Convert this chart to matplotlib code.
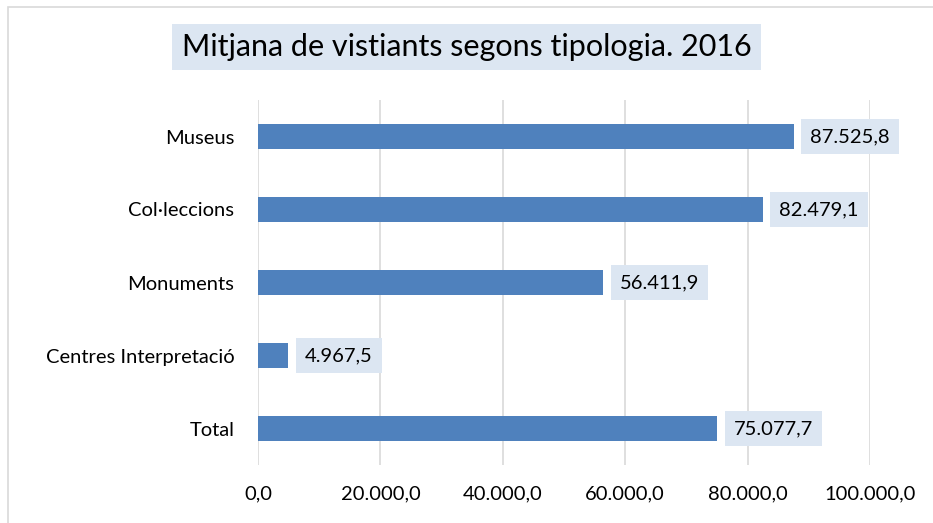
import numpy as np
import matplotlib.pyplot as plt
from matplotlib.patches import Rectangle

# data
categories = ["Museus", "Col·leccions", "Monuments", "Centres Interpretació", "Total"]
values = [87525.8, 82479.1, 56411.9, 4967.5, 75077.7]
xticks = [0, 20000, 40000, 60000, 80000, 100000]


def fmt(v):
    # catalan style: 87.525,8
    s = f"{v:,.1f}"
    return s.replace(",", "X").replace(".", ",").replace("X", ".")


plt.rcParams['font.family'] = ['Lato', 'DejaVu Sans']

W, H = 933, 523
fig = plt.figure(figsize=(W / 100, H / 100), dpi=100)
ax = fig.add_axes([258 / W, 1 - 465 / H, (870 - 258) / W, (465 - 100) / H])

bar_col = '#4F81BD'
box_col = '#DCE6F2'

y = np.arange(len(categories))
ax.barh(y, values, height=0.33, color=bar_col, zorder=3)
ax.set_ylim(len(categories) - 0.5, -0.5)
ax.set_xlim(0, 100000)

ax.set_yticks(y)
ax.set_yticklabels(categories, fontsize=14.5)
ax.set_xticks(xticks)
ax.set_xticklabels([fmt(t) for t in xticks], fontsize=14.5)
ax.tick_params(axis='both', length=0, colors='black')
ax.tick_params(axis='y', pad=17)
ax.tick_params(axis='x', pad=15)

ax.grid(axis='x', color='#D9D9D9', linewidth=1.2, zorder=0)
for s in ax.spines.values():
    s.set_visible(False)

for yi, v in zip(y, values):
    ax.annotate(fmt(v), xy=(v, yi), xytext=(12, 0), textcoords='offset points',
                ha='left', va='center', fontsize=14.5, zorder=4,
                bbox=dict(boxstyle='square,pad=0.45', fc=box_col, ec='none'))

fig.text(0.5, 1 - 47 / H, "Mitjana de vistiants segons tipologia. 2016",
         ha='center', va='center', fontsize=22,
         bbox=dict(boxstyle='square,pad=0.3', fc=box_col, ec='none'))

# outer border (left/top visible)
fig.patches.append(Rectangle((8 / W, -0.05), 1.2, 1 - 7 / H + 0.05,
                             transform=fig.transFigure, fill=False,
                             ec='#D9D9D9', lw=1.2))

fig.savefig("out.png", dpi=100)
